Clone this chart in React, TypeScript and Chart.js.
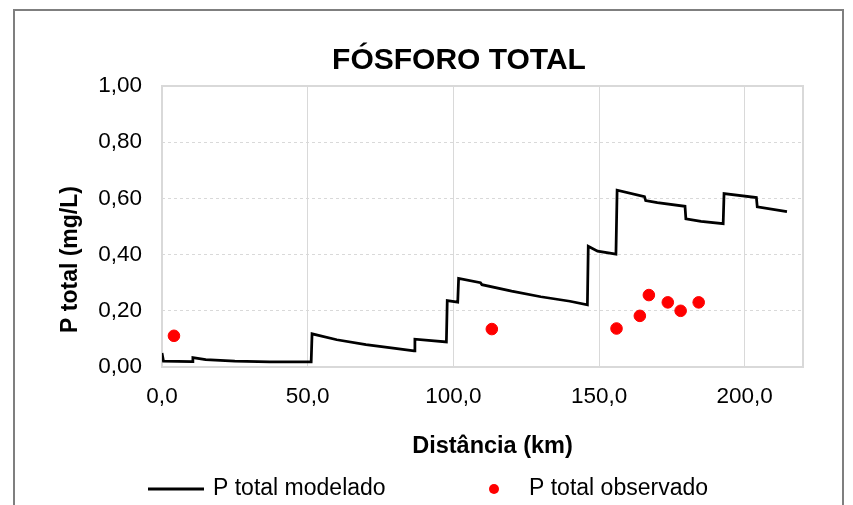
import React, { useEffect, useRef } from "react";
import { Chart, registerables } from "chart.js";

Chart.register(...registerables);

// ---- data ----
const titleText = "FÓSFORO TOTAL";
const xAxisTitle = "Distância (km)";
const yAxisTitle = "P total (mg/L)";
const modelLabel = "P total modelado";
const obsLabel = "P total observado";

const modelKm = [
  0, 0.5, 10.3, 10.6, 15, 25, 37, 51.2, 51.5, 60, 70, 80, 86.5, 86.8, 97.6,
  97.9, 101.5, 101.8, 109.3, 109.8, 120, 130, 140, 146, 146.3, 149.5, 155.8,
  156.2, 165.6, 166, 170, 179.5, 179.8, 185, 192.6, 192.9, 204, 204.3, 214.5,
];
const modelP = [
  0.05, 0.021, 0.019, 0.033, 0.026, 0.021, 0.018, 0.018, 0.118, 0.097, 0.08,
  0.066, 0.057, 0.099, 0.089, 0.236, 0.231, 0.315, 0.3, 0.293, 0.27, 0.25,
  0.234, 0.221, 0.43, 0.412, 0.402, 0.629, 0.606, 0.592, 0.585, 0.572, 0.527,
  0.518, 0.51, 0.617, 0.603, 0.57, 0.553,
];

const obsKm = [4.1, 113.2, 156, 164, 167.1, 173.6, 178, 184.2];
const obsP = [0.111, 0.135, 0.137, 0.182, 0.256, 0.23, 0.2, 0.23];

const xTickValues = [0, 50, 100, 150, 200];
const yTickValues = [0, 0.2, 0.4, 0.6, 0.8, 1.0];

const FONT = "'Liberation Sans', Arial, sans-serif";

const decorPlugin = {
  id: "decor",
  beforeDraw(chart: any) {
    const ctx = chart.ctx;
    ctx.save();
    ctx.strokeStyle = "#7f7f7f";
    ctx.lineWidth = 2;
    ctx.strokeRect(14, 10, 829, 520);
    ctx.restore();
  },
  beforeDatasetsDraw(chart: any) {
    const { ctx, chartArea: ca } = chart;
    ctx.save();
    ctx.strokeStyle = "#d9d9d9";
    ctx.lineWidth = 2;
    ctx.strokeRect(ca.left, ca.top, ca.right - ca.left, ca.bottom - ca.top);
    ctx.restore();
  },
  afterDraw(chart: any) {
    const { ctx, chartArea: ca } = chart;
    ctx.save();
    ctx.fillStyle = "#000";
    // chart title
    ctx.font = `bold 30px ${FONT}`;
    ctx.textAlign = "center";
    ctx.textBaseline = "alphabetic";
    ctx.fillText(titleText, 459, 69);
    // x axis title
    ctx.font = `bold 23.5px ${FONT}`;
    ctx.fillText(xAxisTitle, (ca.left + ca.right) / 2 + 10, 453);
    // y axis title
    ctx.save();
    ctx.translate(77, (ca.top + ca.bottom) / 2 + 33);
    ctx.rotate(-Math.PI / 2);
    ctx.font = `bold 23px ${FONT}`;
    ctx.fillText(yAxisTitle, 0, 0);
    ctx.restore();
    // legend
    const ds0 = chart.data.datasets[0];
    const ds1 = chart.data.datasets[1];
    const ly = 489;
    ctx.strokeStyle = ds0.borderColor;
    ctx.lineWidth = 3;
    ctx.beginPath();
    ctx.moveTo(148, ly);
    ctx.lineTo(204, ly);
    ctx.stroke();
    ctx.font = `23px ${FONT}`;
    ctx.textAlign = "left";
    ctx.textBaseline = "middle";
    ctx.fillText(ds0.label, 213, ly);
    ctx.fillStyle = ds1.backgroundColor;
    ctx.beginPath();
    ctx.arc(494, ly, 5, 0, Math.PI * 2);
    ctx.fill();
    ctx.fillStyle = "#000";
    ctx.fillText(ds1.label, 529, ly);
    ctx.restore();
  },
};

export default function App() {
  const ref = useRef<HTMLCanvasElement | null>(null);

  useEffect(() => {
    if (!ref.current) return;
    const chart = new Chart(ref.current, {
      type: "scatter",
      data: {
        datasets: [
          {
            label: modelLabel,
            data: modelKm.map((x, i) => ({ x, y: modelP[i] })),
            showLine: true,
            borderColor: "#000000",
            backgroundColor: "#000000",
            borderWidth: 2.75,
            pointRadius: 0,
            tension: 0,
          },
          {
            label: obsLabel,
            data: obsKm.map((x, i) => ({ x, y: obsP[i] })),
            showLine: false,
            backgroundColor: "#ff0000",
            borderColor: "#ff0000",
            borderWidth: 1,
            pointRadius: 5.8,
          },
        ],
      },
      options: {
        responsive: false,
        animation: false,
        layout: { padding: { top: 86, left: 62, right: 50, bottom: 98 } },
        plugins: {
          legend: { display: false },
          title: { display: false },
          tooltip: { enabled: false },
        },
        scales: {
          x: {
            type: "linear",
            min: 0,
            max: 220,
            afterBuildTicks: (axis: any) => {
              axis.ticks = xTickValues.map((v) => ({ value: v }));
            },
            afterFit: (scale: any) => {
              scale.height = 40;
            },
            grid: { color: "#d9d9d9", lineWidth: 1, drawTicks: false },
            border: { display: false },
            ticks: {
              padding: 16,
              color: "#000",
              font: { family: FONT, size: 22.5 },
              maxRotation: 0,
              callback: (v: any) => Number(v).toFixed(1).replace(".", ","),
            },
          },
          y: {
            type: "linear",
            min: 0,
            max: 1,
            afterBuildTicks: (axis: any) => {
              axis.ticks = yTickValues.map((v) => ({ value: v }));
            },
            afterFit: (scale: any) => {
              scale.width = 100;
            },
            grid: { color: "#d9d9d9", lineWidth: 1, drawTicks: false },
            border: { display: false, dash: [3, 3] },
            ticks: {
              padding: 20,
              color: "#000",
              font: { family: FONT, size: 22.5 },
              callback: (v: any) => Number(v).toFixed(2).replace(".", ","),
            },
          },
        },
      },
      plugins: [decorPlugin],
    });
    return () => chart.destroy();
  }, []);

  return (
    <div style={{ position: "absolute", left: 0, top: 0, width: 853, height: 505 }}>
      <canvas ref={ref} width={853} height={505} style={{ display: "block" }} />
    </div>
  );
}
